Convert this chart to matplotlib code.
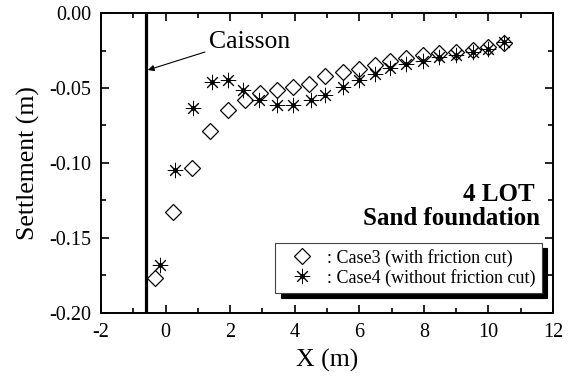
import numpy as np
import matplotlib
matplotlib.use("Agg")
import matplotlib.pyplot as plt
from matplotlib.ticker import MultipleLocator, FormatStrFormatter

plt.rcParams['font.family'] = ['Liberation Serif', 'DejaVu Serif']
plt.rcParams['axes.unicode_minus'] = False

# Case3: with friction cut
x_case3 = [-0.33, 0.22, 0.83, 1.37, 1.94, 2.46, 2.92, 3.46, 3.95, 4.45,
           4.93, 5.48, 5.99, 6.48, 6.95, 7.46, 7.98, 8.47, 9.00, 9.51, 9.99, 10.48]
y_case3 = [-0.177, -0.133, -0.1035, -0.0787, -0.0647, -0.058, -0.053, -0.051,
           -0.0495, -0.047, -0.042, -0.039, -0.037, -0.0347, -0.0318, -0.030,
           -0.028, -0.0269, -0.0258, -0.0247, -0.0225, -0.0198]

# Case4: without friction cut
x_case4 = [-0.17, 0.29, 0.86, 1.43, 1.92, 2.41, 2.90, 3.44, 3.95, 4.49,
           4.93, 5.48, 5.99, 6.48, 6.95, 7.46, 7.98, 8.47, 9.00, 9.51, 9.99, 10.48]
y_case4 = [-0.168, -0.1047, -0.0636, -0.0458, -0.0447, -0.0513, -0.058, -0.0613,
           -0.0613, -0.058, -0.0547, -0.0495, -0.0447, -0.0407, -0.0369, -0.034,
           -0.0318, -0.0295, -0.028, -0.0258, -0.0242, -0.0191]

caisson_x = -0.6

fig = plt.figure(figsize=(5.74, 3.76), dpi=100)
ax = fig.add_axes([0.176, 0.1676, 0.7874, 0.7978])

ax.axvline(caisson_x, color='black', lw=2.3)

d, = ax.plot(x_case3, y_case3, ls='none', marker='D', ms=8.5, mfc='white',
             mec='black', mew=0.9)
s, = ax.plot(x_case4, y_case4, ls='none', marker=(8, 2, 0), ms=11,
             color='black', mew=0.7)
dot, = ax.plot(x_case4, y_case4, ls='none', marker='o', ms=2.5, color='black')

# caisson label and arrow
ax.text(2.6, -0.0193, 'Caisson', fontsize=18.5, ha='center', va='center')
ax.annotate('', xy=(caisson_x + 0.05, -0.038), xytext=(1.22, -0.026),
            arrowprops=dict(arrowstyle='-|>', color='black', lw=0.8,
                            shrinkA=0, shrinkB=0, mutation_scale=9))

ax.text(11.44, -0.1213, '4 LOT', fontsize=18, fontweight='bold', ha='right', va='center')
ax.text(11.59, -0.1367, 'Sand foundation', fontsize=18, fontweight='bold', ha='right', va='center')

leg = ax.legend([d, (s, dot)], [': Case3 (with friction cut)', ': Case4 (without friction cut)'],
                loc='lower right', bbox_to_anchor=(0.975, 0.067), borderaxespad=0,
                fontsize=13, fancybox=False, edgecolor='#444444', framealpha=1,
                handletextpad=0.3, borderpad=0.35, labelspacing=0.1, handlelength=2.2,
                shadow={'color': 'black', 'alpha': 1, 'ox': 3.8, 'oy': -3.8})
leg.get_frame().set_linewidth(0.8)

ax.set_xlim(-2, 12)
ax.set_ylim(-0.20, 0.0)
ax.xaxis.set_major_locator(MultipleLocator(2))
ax.xaxis.set_minor_locator(MultipleLocator(1))
ax.yaxis.set_major_locator(MultipleLocator(0.05))
ax.yaxis.set_minor_locator(MultipleLocator(0.025))
ax.yaxis.set_major_formatter(FormatStrFormatter('%.2f'))
ax.tick_params(which='both', direction='in', top=True, right=True, labelsize=14.5, width=1.2)
ax.tick_params(which='major', length=6)
ax.tick_params(which='minor', length=3.5)
ax.tick_params(axis='x', pad=7)
ax.tick_params(axis='y', pad=7)
for sp in ax.spines.values():
    sp.set_linewidth(1.4)

ax.set_xlabel('X (m)', fontsize=18.5, labelpad=5)
ax.set_ylabel('Settlement (m)', fontsize=18.5, labelpad=7)

fig.savefig('out.png', dpi=100)
